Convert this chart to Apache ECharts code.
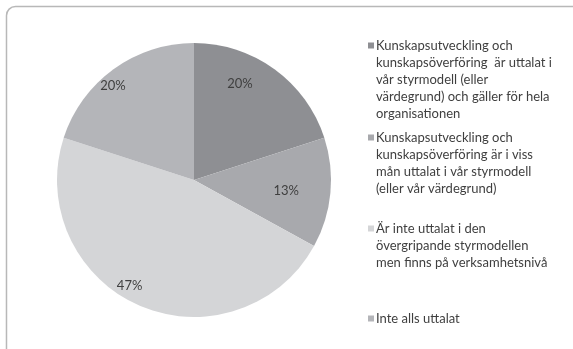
<!DOCTYPE html>
<html>
<head>
<meta charset="utf-8">
<script src="https://cdn.jsdelivr.net/npm/echarts@6/dist/echarts.min.js"></script>
<style>
html, body { margin: 0; padding: 0; background: #ffffff; }
#chart { width: 573px; height: 349px; }
</style>
</head>
<body>
<div id="chart"></div>
<script>
// Answer categories, each split into its printed legend lines
const categoryLines = [
  ['Kunskapsutveckling och', 'kunskapsöverföring  är uttalat i', 'vår styrmodell (eller', 'värdegrund) och gäller för hela', 'organisationen'],
  ['Kunskapsutveckling och', 'kunskapsöverföring är i viss', 'mån uttalat i vår styrmodell', '(eller vår värdegrund)'],
  ['Är inte uttalat i den', 'övergripande styrmodellen', 'men finns på verksamhetsnivå'],
  ['Inte alls uttalat']
];
const categories = categoryLines.map(lines => lines.join(' '));
// Share of respondents, percent
const shares = [20, 13, 47, 20];

const sliceColors = ['#8e8f93', '#a8a9ad', '#d4d5d7', '#b4b5b9'];
const labelOffsets = [[4, -38], [21, 4], [-36, 40], [-39, -36]];
const legendTops = [34, 126, 217, 307];

const chart = echarts.init(document.getElementById('chart'), null, { renderer: 'canvas' });

const legends = categories.map((name, i) => ({
  data: [name],
  left: 358,
  top: legendTops[i],
  orient: 'vertical',
  itemWidth: 0,
  itemHeight: 0,
  icon: 'rect',
  selectedMode: false,
  formatter: () => categoryLines[i].map((line, k) =>
    (k === 0 ? '{sq|}{gap|}' : '{ind|}') + '{t|' + line + '}').join('\n'),
  textStyle: {
    rich: {
      sq: { width: 6, height: 6, backgroundColor: sliceColors[i] },
      gap: { width: 2 },
      ind: { width: 8 },
      t: { fontFamily: 'Lato', fontSize: 13, color: '#3f3f3f', lineHeight: 17 }
    }
  }
}));

chart.setOption({
  animation: false,
  backgroundColor: '#ffffff',
  graphic: [{
    type: 'rect',
    shape: { x: 6.5, y: 6.5, width: 620, height: 400, r: 9 },
    style: { fill: 'none', stroke: '#b8b8b8', lineWidth: 1.5 },
    z: -10,
    silent: true
  }],
  legend: legends,
  series: [{
    type: 'pie',
    center: [194, 180],
    radius: [0, 137],
    startAngle: 90,
    clockwise: true,
    silent: true,
    avoidLabelOverlap: false,
    itemStyle: { borderWidth: 0 },
    label: {
      show: true,
      position: 'inside',
      formatter: p => p.value + '%',
      fontFamily: 'Lato',
      fontSize: 13,
      color: '#3f3f3f'
    },
    labelLine: { show: false },
    data: categories.map((name, i) => ({
      name: name,
      value: shares[i],
      itemStyle: { color: sliceColors[i] },
      label: { offset: labelOffsets[i] }
    }))
  }]
});
</script>
</body>
</html>
